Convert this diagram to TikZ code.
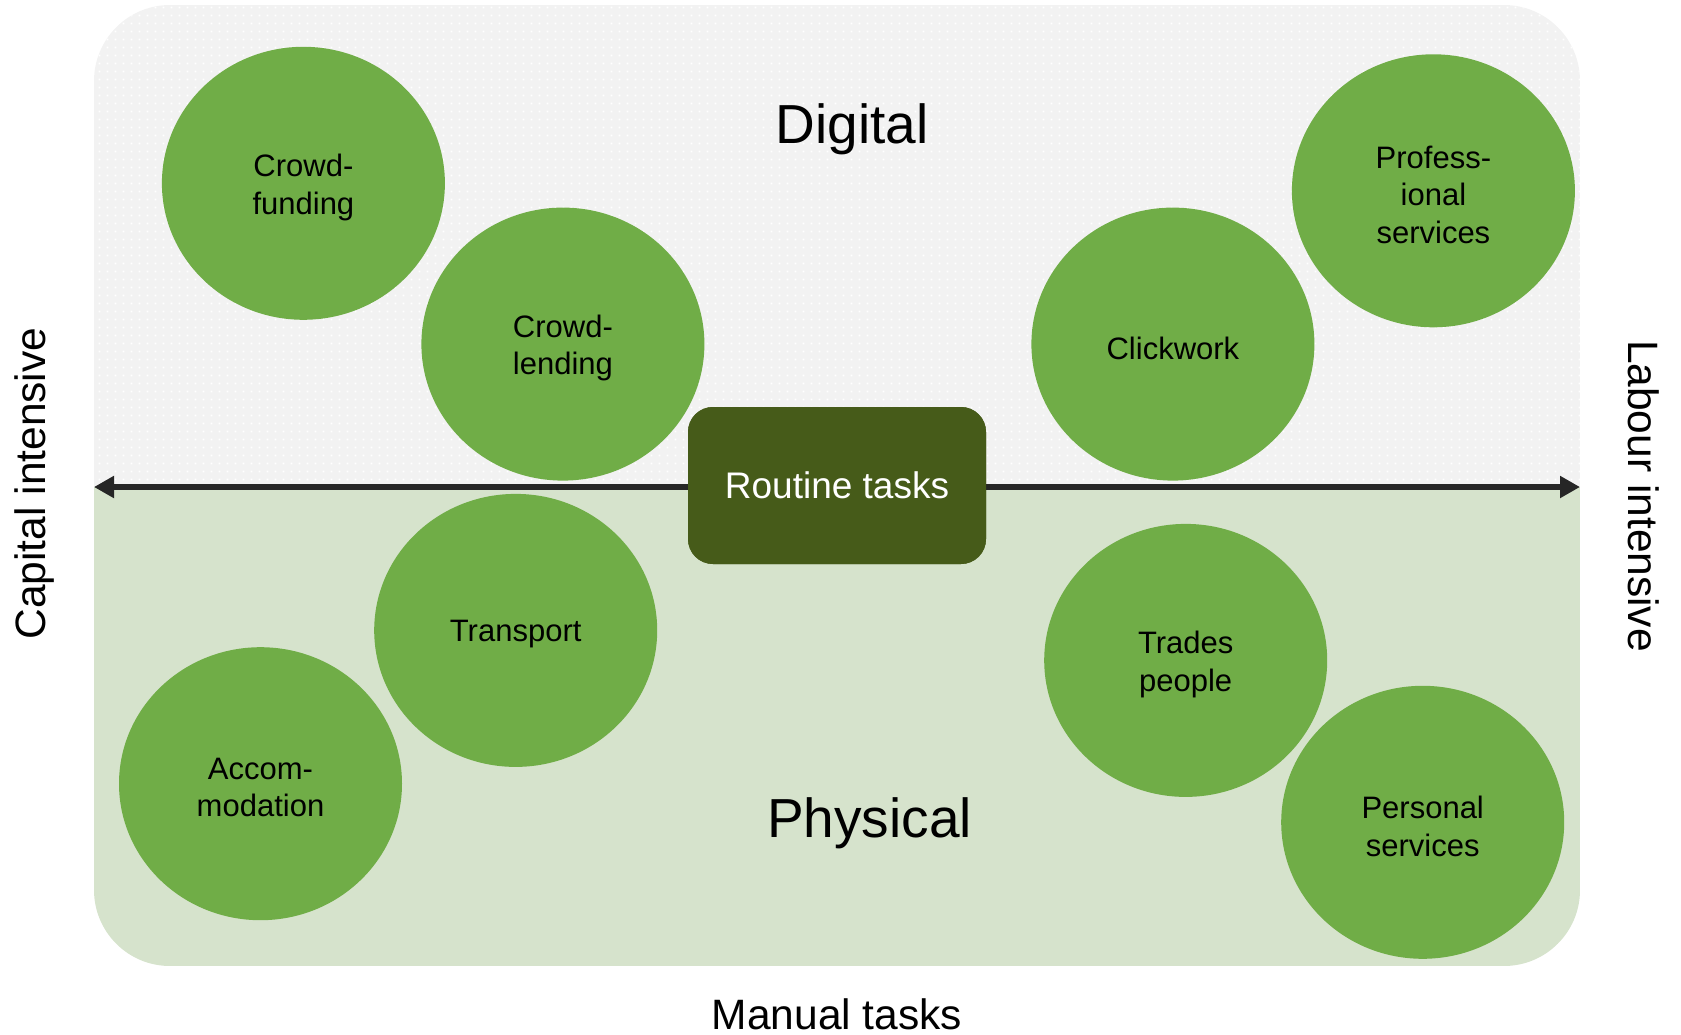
\documentclass[tikz,border=0pt]{standalone}
\usepackage{fontspec}
\setmainfont{Liberation Sans}
\usetikzlibrary{arrows.meta,patterns.meta,shapes.geometric}
\definecolor{topgrey}{HTML}{F2F2F2}
\definecolor{botgreen}{HTML}{D6E3CC}
\definecolor{circgreen}{HTML}{70AD47}
\definecolor{boxgreen}{HTML}{465B19}
\definecolor{arrowgrey}{HTML}{262626}
\tikzdeclarepattern{
  name=wdots,
  type=uncolored,
  bounding box={(0pt,0pt) and (8pt,8pt)},
  tile size={(8pt,8pt)},
  code={\fill (3pt,3pt) rectangle (5pt,5pt);}
}
\tikzset{
  bubble/.style={ellipse, fill=circgreen, minimum width=283pt, minimum height=273pt, inner sep=0pt},
  bubtext/.style={align=center, font=\fontsize{31}{37.5}\selectfont, text=black, yshift=-4pt},
  routinebox/.style={rectangle, rounded corners=25pt, fill=boxgreen,
    minimum width=298pt, minimum height=157pt, text=white,
    font=\fontsize{37}{44}\selectfont},
  bigtitle/.style={font=\fontsize{55}{66}\selectfont, anchor=base},
  axislabel/.style={font=\fontsize{42.5}{50}\selectfont, anchor=base},
  axisarrow/.style={draw=arrowgrey, line width=5.5pt, -{Triangle[length=20pt,width=21pt]}}
}
\begin{document}
\begin{tikzpicture}[x=1pt,y=-1pt]
\useasboundingbox (0,0) rectangle (1681,1035);
% background
\begin{scope}
\clip[rounded corners=76pt] (94,5) rectangle (1580,966);
\fill[topgrey] (94,5) rectangle (1580,487);
\fill[pattern=wdots, pattern color=white] (94,5) rectangle (1580,487);
\fill[botgreen] (94,487) rectangle (1580,966);
\end{scope}
% titles
\node[bigtitle] (digital) at (852,144) {Digital};
\node[bigtitle] (physical) at (869.5,837) {Physical};
\node[axislabel] (manual) at (837,1029) {Manual tasks};
\node[axislabel, rotate=90] (capital) at (45,483.5) {Capital intensive};
\node[axislabel, rotate=-90] (labour) at (1628.5,496) {Labour intensive};
% axis coordinates
\coordinate (leftend) at (94,487);
\coordinate (rightend) at (1580,487);
% circles
\node[bubble] (cfund) at (303.4,183.3) {};
\node[bubtext] (cfundt) at (cfund) {Crowd-\\funding};
\node[bubble] (clend) at (562.9,344.1) {};
\node[bubtext] (clendt) at (clend) {Crowd-\\lending};
\node[bubble] (click) at (1172.9,344.1) {};
\node[bubtext] (clickt) at (click) {Clickwork};
\node[bubble] (prof) at (1433.4,190.8) {};
\node[bubtext] (proft) at (prof) {Profess-\\ional\\services};
\node[bubble] (trans) at (515.7,630.4) {};
\node[bubtext] (transt) at (trans) {Transport};
\node[bubble] (accom) at (260.5,783.7) {};
\node[bubtext] (accomt) at (accom) {Accom-\\modation};
\node[bubble] (trades) at (1185.7,660.4) {};
\node[bubtext] (tradest) at (trades) {Trades\\people};
\node[bubble] (pers) at (1422.7,822.3) {};
\node[bubtext] (perst) at (pers) {Personal\\services};
% routine box and arrows
\node[routinebox] (routine) at (837,485.5) {Routine tasks};
\draw[axisarrow] (routine.west |- leftend) -- (leftend);
\draw[axisarrow] (routine.east |- rightend) -- (rightend);
\node[routinebox] (routinetop) at (routine) {Routine tasks};
\end{tikzpicture}
\end{document}
